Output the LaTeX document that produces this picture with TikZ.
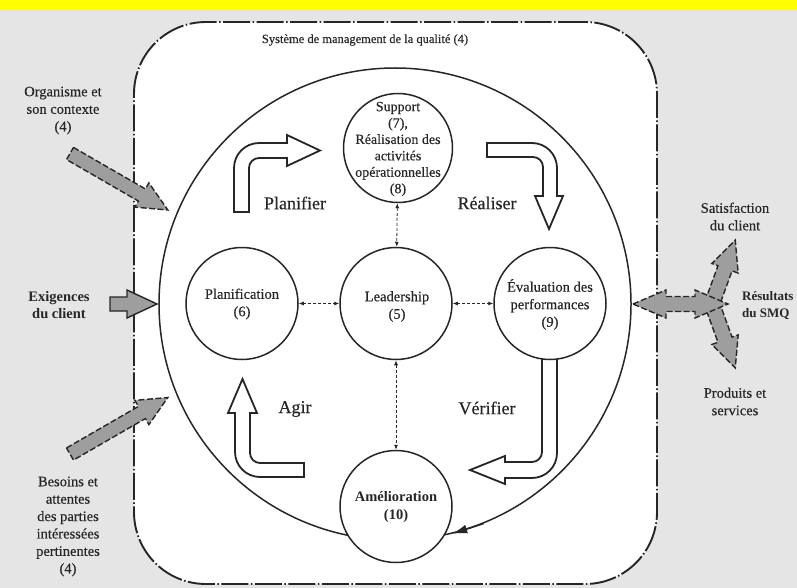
\documentclass[tikz,border=0pt]{standalone}
\usepackage{fontspec}
\setmainfont{Liberation Serif}[FakeBold=0.35, BoldFeatures={FakeBold=0}]
\usetikzlibrary{arrows.meta}

\definecolor{bandyellow}{RGB}{255,255,0}
\definecolor{paper}{RGB}{229,229,229}
\definecolor{ink}{RGB}{38,38,38}
\definecolor{flowgray}{RGB}{158,158,158}

% straight block arrow: style, tail x, tail y, angle, length, shaft half-width
\newcommand{\blockarr}[6]{%
  \draw[#1, shift={(#2,#3)}, rotate=#4]
    (0,-#6) -- ({#5-30},-#6) -- ({#5-30},-14) -- (#5,0)
    -- ({#5-30},14) -- ({#5-30},#6) -- (0,#6) -- cycle;}

\begin{document}
\begin{tikzpicture}[x=1pt,y=-1pt,
  proc/.style={circle, draw=ink, line width=1.5pt, fill=white,
    minimum size=112pt, inner sep=0pt},
  txt/.style={text=ink, align=center, inner sep=0pt,
    font=\fontsize{14.5}{17.5}\selectfont},
  boldtxt/.style={txt, font=\fontsize{14.5}{17}\selectfont\bfseries},
  phase/.style={text=ink, inner sep=0pt, font=\fontsize{18}{20}\selectfont},
  dlink/.style={draw=ink, line width=0.8pt, dash pattern=on 3pt off 2pt,
    arrows={Latex[length=5pt,width=4pt]-Latex[length=5pt,width=4pt]}},
  warrow/.style={draw=ink, fill=white, line width=1.8pt, line join=miter},
  garrow/.style={draw=ink, fill=flowgray, line width=1.4pt,
    dash pattern=on 6pt off 2.5pt, line join=miter},
  gsolid/.style={draw=ink, fill=flowgray, line width=1.4pt, line join=miter}
]
\useasboundingbox (0,0) rectangle (797,588);

% background and top band
\fill[paper] (0,0) rectangle (797,588);
\fill[bandyellow] (0,0) rectangle (797,9);

% quality management system frame
\node[draw=ink, fill=white, line width=1.9pt, rounded corners=72pt,
  dash pattern=on 27pt off 2.5pt on 1.5pt off 2.5pt,
  minimum width=523pt, minimum height=562pt, inner sep=0pt]
  (qms) at (395.5,303) {};
\node[txt, font=\fontsize{12.5}{14}\selectfont] (title) at (365,40)
  {Système de management de la qualité (4)};

% PDCA cycle
\node[circle, draw=ink, line width=1.5pt, minimum size=472pt, inner sep=0pt]
  (pdca) at (395,304) {};
\draw[ink, line width=1.5pt, -{Latex[length=15pt,width=9pt]}]
  (pdca.-68) -- (pdca.-76.5);

% Planifier
\draw[warrow] (234,212) -- (234,168) .. controls (234,154.2) and (245.2,143) .. (259,143)
  -- (287,143) -- (287,135) -- (320,150.5) -- (287,166) -- (287,158) -- (259,158)
  .. controls (253.5,158) and (249,162.5) .. (249,168) -- (249,212) -- cycle;
% Réaliser
\draw[warrow] (487,143) -- (532,143) .. controls (545.8,143) and (557,154.2) .. (557,168)
  -- (557,196) -- (563,196) -- (549,229) -- (535,196) -- (543,196) -- (543,167)
  .. controls (543,161.5) and (538.5,157) .. (533,157) -- (487,157) -- cycle;
% Vérifier
\draw[warrow] (542,349) -- (557,349) -- (557,453) .. controls (557,466.8) and (545.8,478) .. (532,478)
  -- (505,478) -- (505,484) -- (470,470) -- (505,456) -- (505,462) -- (532,462)
  .. controls (537.5,462) and (542,457.5) .. (542,452) -- cycle;
% Agir
\draw[warrow] (304,463) -- (304,477) -- (260,477) .. controls (246.2,477) and (235,465.8) .. (235,452)
  -- (235,413) -- (228,413) -- (242.5,379) -- (257,413) -- (250,413) -- (250,453)
  .. controls (250,458.5) and (254.5,463) .. (260,463) -- cycle;

\node[phase] (plan-lbl) at (295,203) {Planifier};
\node[phase] (do-lbl)   at (487,203) {Réaliser};
\node[phase] (act-lbl)  at (295,409) {Agir};
\node[phase] (chk-lbl)  at (487,408) {Vérifier};

% process circles
\node[proc, minimum size=109pt] (sup) at (398,148) {};
\node[proc] (plan) at (242,303.5) {};
\node[proc] (lead) at (396,303.5) {};
\node[proc] (eval) at (550,303.5) {};
\node[proc] (amel) at (396,506.5) {};

\draw[dlink] (sup) -- (lead);
\draw[dlink] (plan) -- (lead);
\draw[dlink] (lead) -- (eval);
\draw[dlink] (lead) -- (amel);

\node[txt, font=\fontsize{14}{16.4}\selectfont] (t-sup) at (398,149)
  {Support\\(7),\\Réalisation des\\activités\\opérationnelles\\(8)};
\node[txt] (t-plan) at (242,304) {Planification\\(6)};
\node[txt] (t-lead) at (397,306.5) {Leadership\\(5)};
\node[txt] (t-eval) at (550,304.5) {Évaluation des\\performances\\(9)};
\node[txt, font=\fontsize{14.5}{17.5}\selectfont\bfseries] (t-amel) at (396,507) {Amélioration\\(10)};

% inputs
\node[txt] (ctx) at (63,110.5) {Organisme et\\son contexte\\(4)};
\node[boldtxt] (req) at (59,305) {Exigences\\du client};
\node[txt, font=\fontsize{14.5}{17.4}\selectfont] (needs) at (68,526.5)
  {Besoins et\\attentes\\des parties\\intéressées\\pertinentes\\(4)};

\blockarr{garrow}{70}{153.5}{-30}{113}{7}
\blockarr{gsolid}{110}{304}{0}{47}{7}
\blockarr{garrow}{70}{454}{30}{113}{7}

% outputs
\node[txt] (sat) at (735,216.5) {Satisfaction\\du client};
\node[txt] (prod) at (735,401.5) {Produits et\\services};

\blockarr{garrow}{712}{304}{70}{68}{7.5}
\blockarr{garrow}{712}{304}{-70}{68}{7.5}
\draw[garrow] (633,304) -- (666,290) -- (666,296.5) -- (695,296.5) -- (695,290)
  -- (728,304) -- (695,318) -- (695,311.5) -- (666,311.5) -- (666,318) -- cycle;

\node[boldtxt, align=left, anchor=west, font=\fontsize{13}{17}\selectfont\bfseries]
  (res) at (742,306) {Résultats\\du SMQ};
\end{tikzpicture}
\end{document}
